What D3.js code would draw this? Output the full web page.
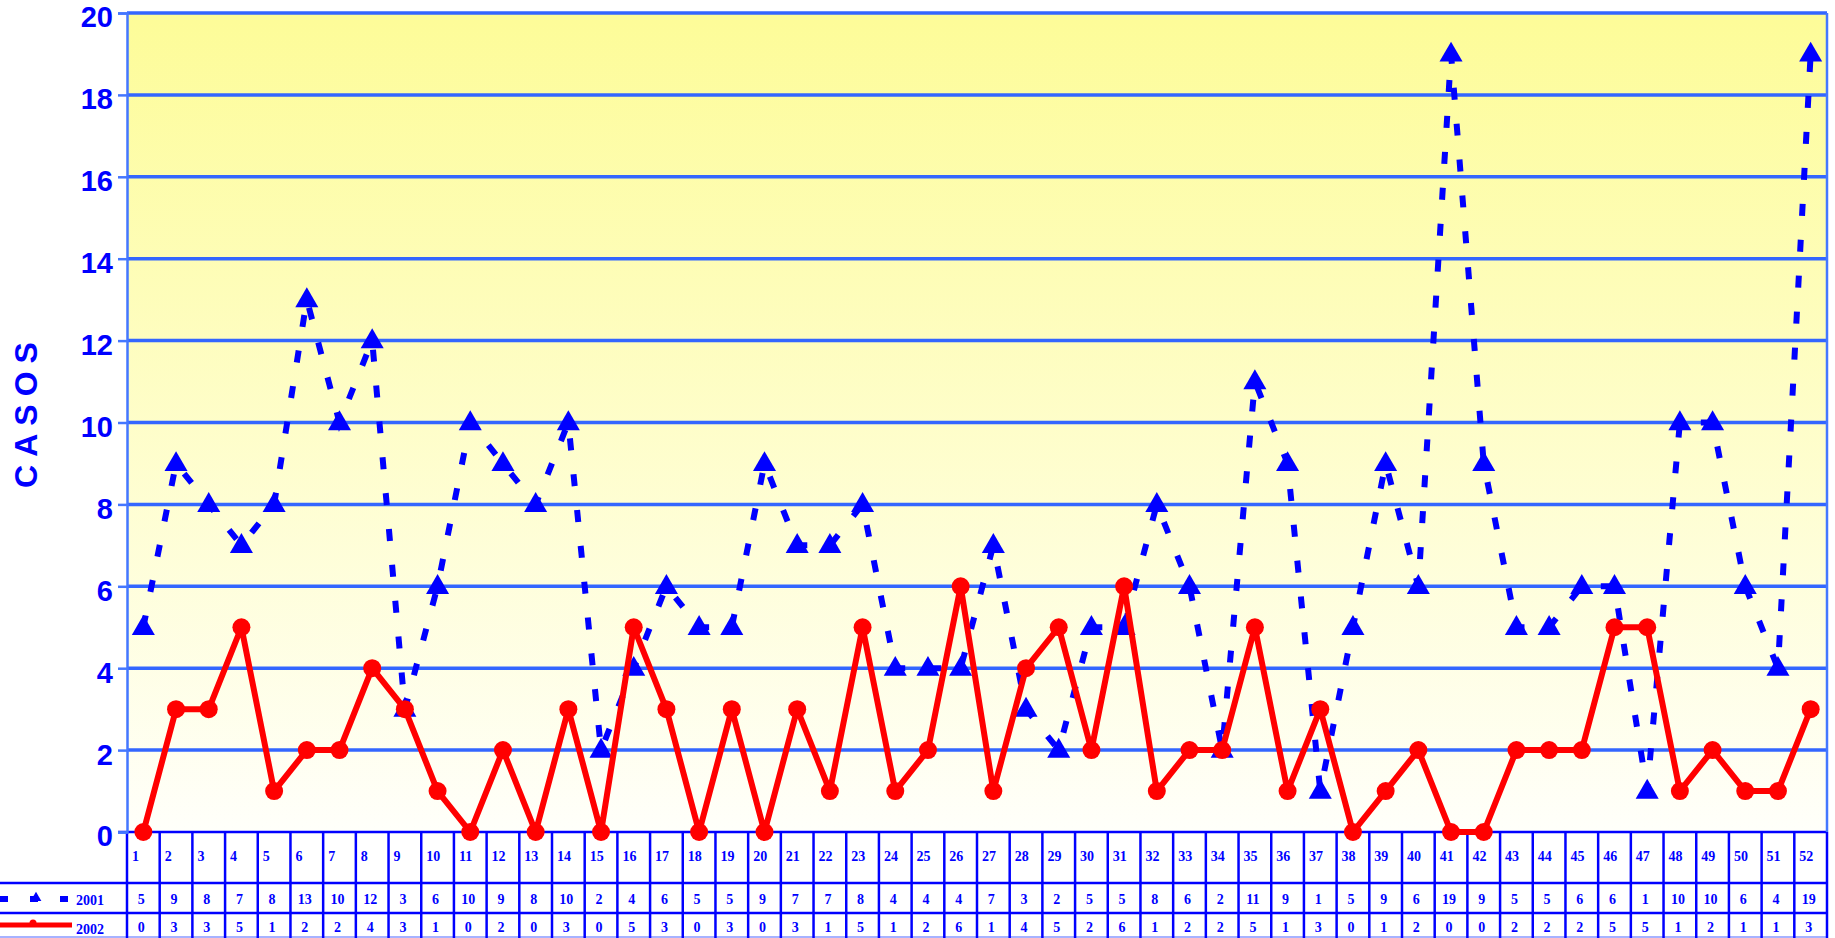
<!DOCTYPE html>
<html><head><meta charset="utf-8">
<script src="https://cdn.jsdelivr.net/npm/d3@7"></script>
<style>body{margin:0;background:#fff;}svg{display:block;}</style>
</head><body>
<svg id="c" width="1835" height="938"></svg>
<script>
const weeks = d3.range(1, 53);
const cases2001 = [5,9,8,7,8,13,10,12,3,6,10,9,8,10,2,4,6,5,5,9,7,7,8,4,4,4,7,3,2,5,5,8,6,2,11,9,1,5,9,6,19,9,5,5,6,6,1,10,10,6,4,19];
const cases2002 = [0,3,3,5,1,2,2,4,3,1,0,2,0,3,0,5,3,0,3,0,3,1,5,1,2,6,1,4,5,2,6,1,2,2,5,1,3,0,1,2,0,0,2,2,2,5,5,1,2,1,1,3];
const yTicks = [0,2,4,6,8,10,12,14,16,18,20];
const seriesNames = ["2001","2002"];
const yTitle = "CASOS";

const svg = d3.select("#c");
const L = 127, R = 1827, T = 13, B = 832;
const rowY = [832, 883, 913, 937];
const x = d3.scaleBand().domain(weeks).range([L, R]).padding(0);
const y = d3.scaleLinear().domain([0, 20]).range([B, T]);
const cx = d => x(d) + x.bandwidth() / 2;

// background gradient
const defs = svg.append("defs");
const g = defs.append("linearGradient").attr("id","bg").attr("x1",0).attr("y1",0).attr("x2",0).attr("y2",1);
g.append("stop").attr("offset","0%").attr("stop-color","#fdfc98");
g.append("stop").attr("offset","100%").attr("stop-color","#fffffa");
svg.append("rect").attr("x",L).attr("y",T).attr("width",R-L).attr("height",B-T).attr("fill","url(#bg)");

// gridlines
svg.append("g").selectAll("line").data(yTicks.filter(d=>d>0)).join("line")
  .attr("x1",L).attr("x2",R).attr("y1",d=>y(d)).attr("y2",d=>y(d))
  .attr("stroke","#3366ff").attr("stroke-width",3.5);

// data table lines
const tg = svg.append("g");
tg.append("line").attr("x1",118).attr("x2",R).attr("y1",rowY[0]).attr("y2",rowY[0]).attr("stroke","#0000ff").attr("stroke-width",2.5);
[rowY[1],rowY[2]].forEach(v=>tg.append("line").attr("x1",0).attr("x2",R).attr("y1",v).attr("y2",v).attr("stroke","#0000ff").attr("stroke-width",2.5));
tg.append("line").attr("x1",0).attr("x2",R).attr("y1",rowY[3]).attr("y2",rowY[3]).attr("stroke","#8899ff").attr("stroke-width",1.5);
tg.selectAll("line.v").data(weeks.concat([53])).join("line").attr("class","v")
  .attr("x1",d=>d===53?R:x(d)).attr("x2",d=>d===53?R:x(d)).attr("y1",rowY[0]).attr("y2",938)
  .attr("stroke","#0000ff").attr("stroke-width",2.5);

// y axis
const yAxis = d3.axisLeft(y).tickValues(yTicks).tickSize(9).tickPadding(5).tickFormat(d3.format("d"));
const ya = svg.append("g").attr("transform",`translate(${L},0)`).call(yAxis);
ya.select(".domain").attr("stroke","#4477ff").attr("stroke-width",2.5);
ya.selectAll(".tick line").attr("stroke","#4477ff").attr("stroke-width",2.5);
ya.selectAll(".tick text").attr("fill","#0000ff").attr("font-family","Liberation Sans, Arial, sans-serif")
  .attr("font-weight","bold").attr("font-size",29).attr("dy","0.48em");
// right frame
svg.append("line").attr("x1",R).attr("x2",R).attr("y1",T).attr("y2",B).attr("stroke","#4477ff").attr("stroke-width",2.5);

// y title
svg.append("text").attr("transform","translate(37,411) rotate(-90)").attr("text-anchor","middle")
  .attr("fill","#0000ff").attr("font-family","Liberation Sans, Arial, sans-serif").attr("font-weight","bold")
  .attr("font-size",32).attr("letter-spacing","8px").text(yTitle);

// 2001 series: dashed with triangles
const line = d3.line().x((d,i)=>cx(weeks[i])).y(d=>y(d));
svg.append("path").datum(cases2001).attr("d",line).attr("fill","none")
  .attr("stroke","#0000ff").attr("stroke-width",6).attr("stroke-dasharray","12,24").attr("stroke-linecap","butt");
const tri = d3.symbol().type(d3.symbolTriangle).size(230);
svg.append("g").selectAll("path").data(cases2001).join("path")
  .attr("d",tri).attr("transform",(d,i)=>`translate(${cx(weeks[i])},${y(d)+1})`).attr("fill","#0000ff");

// 2002 series: solid red with circles
svg.append("path").datum(cases2002).attr("d",line).attr("fill","none")
  .attr("stroke","#ff0000").attr("stroke-width",6).attr("stroke-linejoin","round");
svg.append("g").selectAll("circle").data(cases2002).join("circle")
  .attr("cx",(d,i)=>cx(weeks[i])).attr("cy",d=>y(d)).attr("r",9).attr("fill","#ff0000");

// table texts
const tt = svg.append("g");
const tf = "Liberation Serif, Times New Roman, serif";
tt.selectAll("text.w").data(weeks).join("text").attr("class","w")
  .attr("x",d=>x(d)+5).attr("y",861).attr("fill","#0000ff").attr("font-family",tf).attr("font-weight","bold").attr("font-size",14).text(d=>d);
tt.selectAll("text.a").data(cases2001).join("text").attr("class","a")
  .attr("x",(d,i)=>cx(weeks[i])-2).attr("y",904).attr("text-anchor","middle").attr("fill","#0000ff").attr("font-family",tf).attr("font-weight","bold").attr("font-size",14).text(d=>d);
tt.selectAll("text.b").data(cases2002).join("text").attr("class","b")
  .attr("x",(d,i)=>cx(weeks[i])-2).attr("y",932).attr("text-anchor","middle").attr("fill","#0000ff").attr("font-family",tf).attr("font-weight","bold").attr("font-size",14).text(d=>d);

// legend keys in first column
tt.append("line").attr("x1",0).attr("x2",72).attr("y1",899).attr("y2",899).attr("stroke","#0000ff").attr("stroke-width",6).attr("stroke-dasharray","8,22");
tt.append("path").attr("d",d3.symbol().type(d3.symbolTriangle).size(50)).attr("transform","translate(36,898)").attr("fill","#0000ff");
tt.append("line").attr("x1",0).attr("x2",72).attr("y1",925).attr("y2",925).attr("stroke","#ff0000").attr("stroke-width",5);
tt.append("circle").attr("cx",33).attr("cy",923).attr("r",3.5).attr("fill","#ff0000");
tt.selectAll("text.l").data(seriesNames).join("text").attr("class","l")
  .attr("x",76).attr("y",(d,i)=>i===0?905:934).attr("fill","#0000ff").attr("font-family",tf).attr("font-weight","bold").attr("font-size",14).text(d=>d);
</script>
</body></html>
